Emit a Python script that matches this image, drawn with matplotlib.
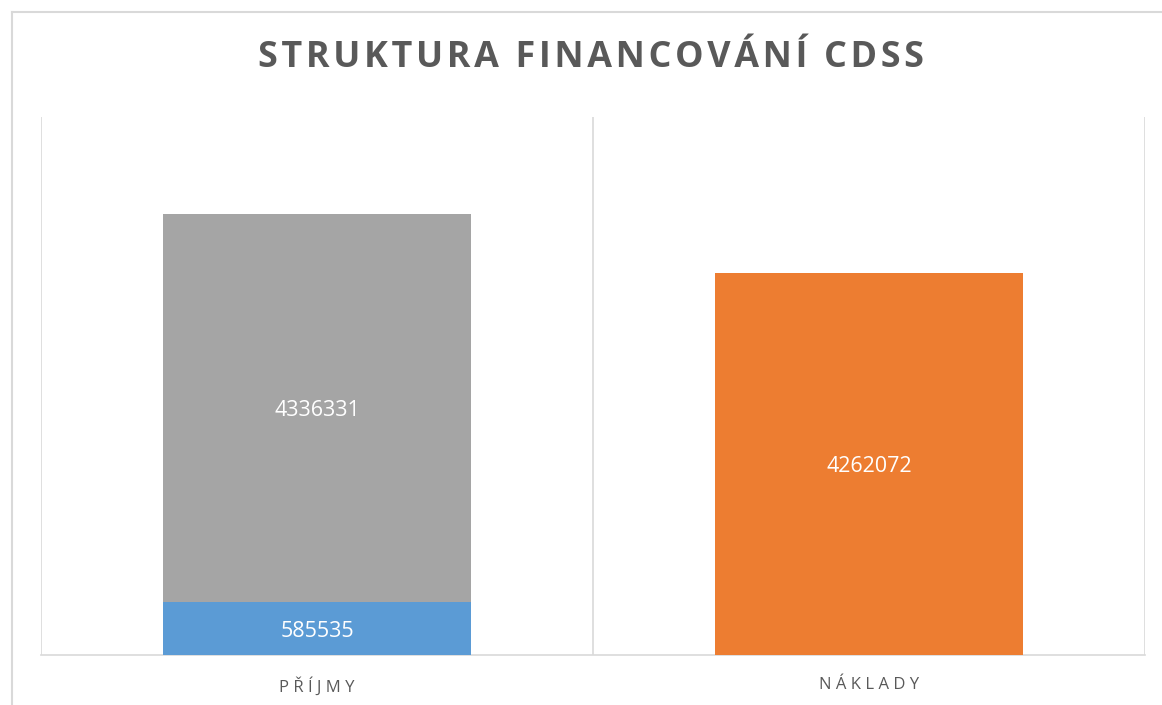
import numpy as np
import matplotlib
matplotlib.use('Agg')
import matplotlib.pyplot as plt
from matplotlib.lines import Line2D

# values
categories = ['PŘÍJMY', 'NÁKLADY']
prijmy_low = [585535, 0]       # blue, bottom of the first stack
prijmy_high = [4336331, 0]     # grey, on top of it
naklady = [0, 4262072]         # orange
title = 'STRUKTURA FINANCOVÁNÍ CDSS'

BLUE, GREY, ORANGE = '#5B9BD5', '#A5A5A5', '#ED7D31'
TXT, LINE = '#595959', '#D9D9D9'

plt.rcParams['font.family'] = ['Open Sans', 'DejaVu Sans']


def spaced(s, sep='\u200a'):
    # rough letter-spacing, matplotlib has no tracking option
    return sep.join(s)


fig = plt.figure(figsize=(11.62, 7.05), dpi=100)
ax = fig.add_axes([41 / 1162, 50 / 705, 1104 / 1162, 538 / 705])

x = np.arange(len(categories))
w = 0.558
bl = ax.bar(x, prijmy_low, w, color=BLUE, zorder=3)
bh = ax.bar(x, prijmy_high, w, bottom=prijmy_low, color=GREY, zorder=3)
bo = ax.bar(x, naklady, w, color=ORANGE, zorder=3)

for bars in (bl, bh, bo):
    for r in bars:
        h = r.get_height()
        if h <= 0:
            continue
        ax.text(r.get_x() + r.get_width() / 2, r.get_y() + h / 2, f'{int(h)}',
                ha='center', va='center_baseline', color='white', fontsize=15.5, zorder=4)

ax.set_xlim(-0.5, len(categories) - 0.5)
ax.set_ylim(0, 6000000)
for gx in np.arange(-0.5, len(categories), 1.0):
    ax.axvline(gx, color=LINE, lw=1.2, zorder=1)

ax.set_yticks([])
ax.set_xticks(x)
ax.set_xticklabels([' '.join(c) for c in categories], color=TXT, fontsize=12)
ax.tick_params(axis='x', length=0, pad=16)
for s in ('top', 'left', 'right'):
    ax.spines[s].set_visible(False)
ax.spines['bottom'].set_color(LINE)
ax.spines['bottom'].set_linewidth(1.2)

fig.text(591 / 1162, 1 - 58 / 705, spaced(title, '\u200a'), ha='center', va='center',
         fontsize=25.8, fontweight='bold', color=TXT)

# chart frame, only left and top edges are inside the picture
fig.add_artist(Line2D([11.5 / 1162, 11.5 / 1162], [0, 1 - 11.5 / 705],
                      transform=fig.transFigure, color=LINE, lw=1.5))
fig.add_artist(Line2D([11.5 / 1162, 1], [1 - 11.5 / 705, 1 - 11.5 / 705],
                      transform=fig.transFigure, color=LINE, lw=1.5))

fig.savefig('out.png', dpi=100)
